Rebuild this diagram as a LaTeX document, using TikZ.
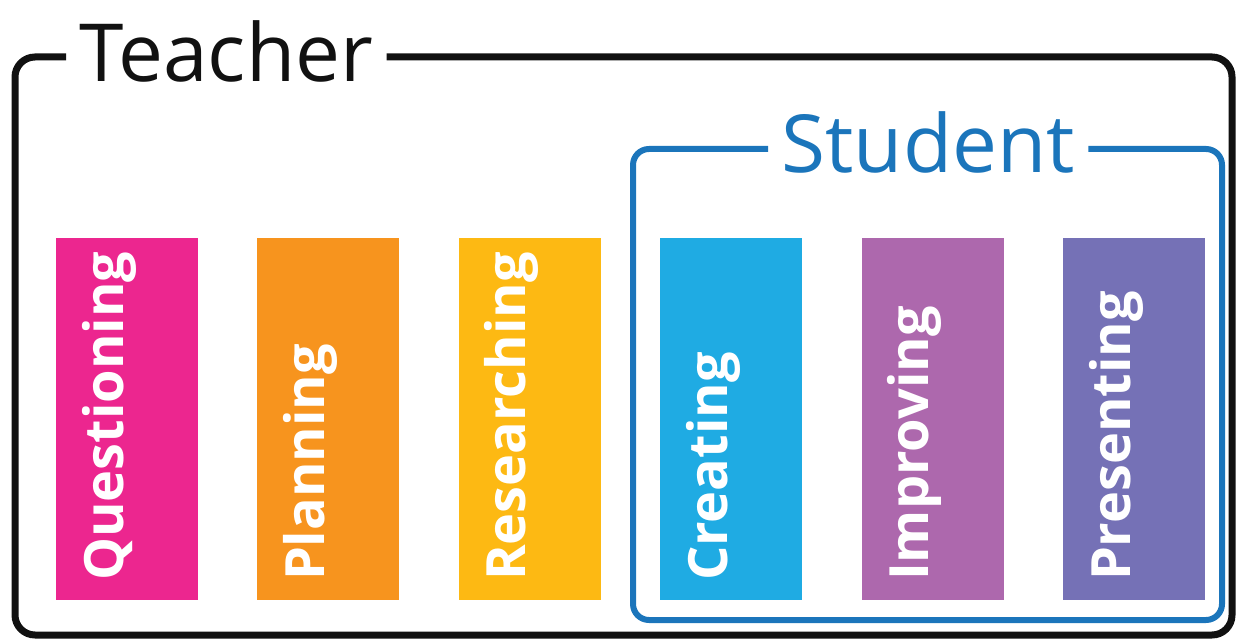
\documentclass[tikz,border=0pt]{standalone}
\usepackage{fontspec}
\setmainfont{Open Sans}
\usetikzlibrary{positioning}

\definecolor{qcol}{HTML}{EC268F}
\definecolor{pcol}{HTML}{F7941E}
\definecolor{rcol}{HTML}{FDB913}
\definecolor{ccol}{HTML}{1FABE3}
\definecolor{icol}{HTML}{AD68AD}
\definecolor{prcol}{HTML}{7571B6}
\definecolor{stblue}{HTML}{1B75BB}
\definecolor{tblack}{HTML}{111111}

\begin{document}
\begin{tikzpicture}[
    x=0.1mm, y=-0.1mm,
    node distance=5.8mm,
    bar/.style={rectangle, inner sep=0pt, minimum width=14.2mm, minimum height=36.2mm},
    bartext/.style={rotate=90, anchor=base west, inner sep=0pt, text=white,
      font=\fontsize{15.4}{16}\selectfont\bfseries},
    title/.style={inner xsep=1.3mm, inner ysep=0pt, anchor=base west,
      font=\fontsize{22.8}{24}\selectfont},
    frame/.style={line width=0.7mm, rounded corners=2mm}
  ]
    \useasboundingbox (0,0) rectangle (1241,641);

    % 見出し
    \node[title, text=tblack] (teacher) at (66,82) {Teacher};
    \node[title, text=stblue] (student) at (768,173) {Student};

    % 枠
    \draw[frame, tblack] (teacher.west |- 0,57) -| (15,635) -| (1232,57) -- (teacher.east |- 0,57);
    \draw[frame, stblue, line width=0.6mm, rounded corners=1.6mm]
      (student.west |- 0,149) -| (633,620) -| (1222,149) -- (student.east |- 0,149);

    % 段階
    \node[bar, fill=qcol] (questioning) at (127,419) {};
    \node[bar, fill=pcol, right=of questioning] (planning) {};
    \node[bar, fill=rcol, right=of planning] (researching) {};
    \node[bar, fill=ccol, right=of researching] (creating) {};
    \node[bar, fill=icol, right=of creating] (improving) {};
    \node[bar, fill=prcol, right=of improving] (presenting) {};

    % 文字
    \node[bartext] (questioning-t) at ([xshift=-0.4mm, yshift=1.9mm]questioning.south) {Questioning};
    \node[bartext] (planning-t) at ([xshift=-0.4mm, yshift=1.9mm]planning.south) {Planning};
    \node[bartext] (researching-t) at ([xshift=-0.4mm, yshift=1.9mm]researching.south) {Researching};
    \node[bartext] (creating-t) at ([xshift=-0.4mm, yshift=1.9mm]creating.south) {Creating};
    \node[bartext] (improving-t) at ([xshift=-0.4mm, yshift=1.9mm]improving.south) {Improving};
    \node[bartext] (presenting-t) at ([xshift=-0.4mm, yshift=1.9mm]presenting.south) {Presenting};

  \end{tikzpicture}
\end{document}
